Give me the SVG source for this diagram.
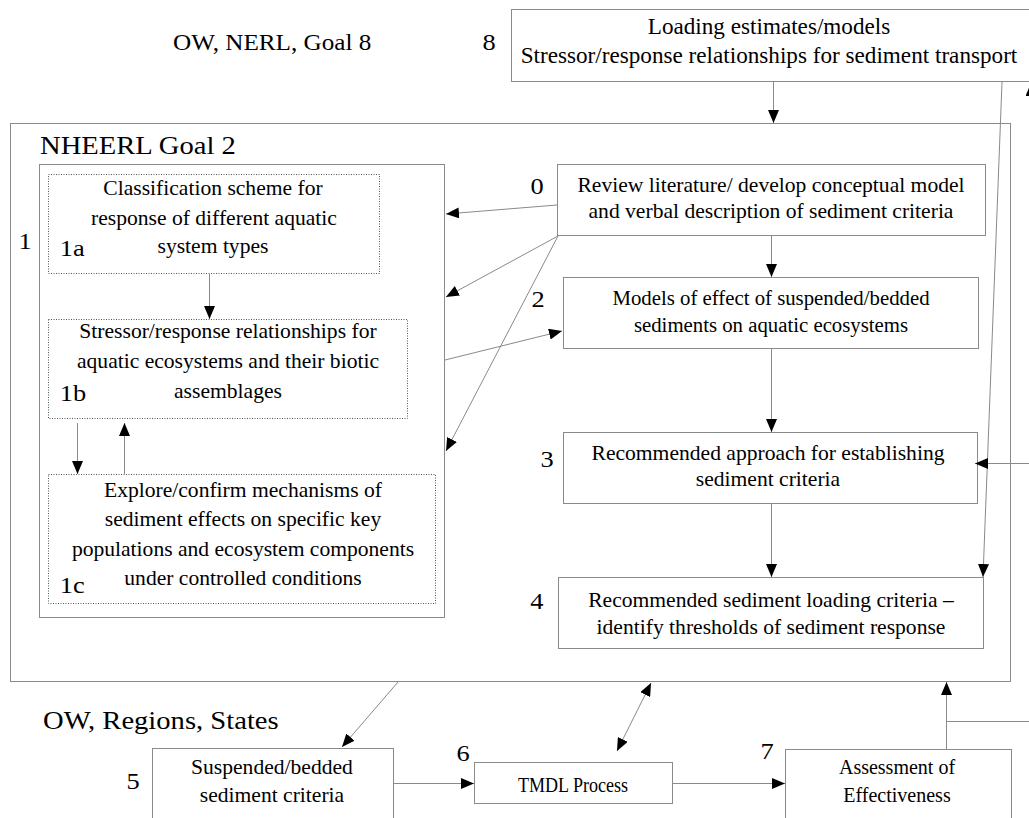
<svg xmlns="http://www.w3.org/2000/svg" width="1029" height="818" viewBox="0 0 1029 818" font-family="'Liberation Serif', 'DejaVu Serif', serif">
  <style>
    text { font-family: "Liberation Serif", "DejaVu Serif", serif; fill: #000; transform-box: fill-box; }
    .t { font-size: 20px; text-anchor: middle; transform-origin: center; transform: scaleX(1.08); }
    .t2 { transform: scaleX(1.04); }
    .t8 { font-size: 22.5px; transform: scaleX(1.03); }
    .plain { transform: none; }
    .tm { font-size: 21px; transform: scaleX(0.86); }
    .num { font-size: 24px; transform-origin: center; transform: scaleX(1.1); }
    .head { font-size: 26px; transform-origin: left center; transform: scaleX(1.1); }
    .box { fill: none; stroke: #8a8a8a; stroke-width: 1; }
    .dot { fill: none; stroke: #555; stroke-width: 1; stroke-dasharray: 1 1.5; }
    .ln { fill: none; stroke: #8a8a8a; stroke-width: 1; }
    .arr { fill: none; stroke: #8a8a8a; stroke-width: 1; marker-end: url(#ah); }
  </style>
  <defs>
    <marker id="ah" markerUnits="userSpaceOnUse" markerWidth="13" markerHeight="11" refX="13" refY="5.5" orient="auto-start-reverse">
      <path d="M0,0 L13,5.5 L0,11 Z" fill="#000"/>
    </marker>
  </defs>
  <rect width="1029" height="818" fill="#fff"/>

  <!-- group headings -->
  <text class="head" x="173" y="50" style="font-size:24px;transform:scaleX(1.05)">OW, NERL, Goal 8</text>
  <text class="head" x="40" y="154">NHEERL Goal 2</text>
  <text class="head" x="43" y="729">OW, Regions, States</text>

  <!-- outer NHEERL frame -->
  <g id="frame-nheerl">
    <rect class="box" x="10.5" y="123.5" width="1000" height="558"/>
  </g>

  <!-- node 8 -->
  <g id="node-8">
    <rect class="box" x="511.5" y="9.5" width="540" height="72"/>
    <text class="num" x="483" y="50">8</text>
    <text class="t t8" x="769" y="34">Loading estimates/models</text>
    <text class="t t8" x="769" y="63">Stressor/response relationships for sediment transport</text>
  </g>

  <!-- node 1 with sub-tasks -->
  <g id="node-1">
    <rect class="box" x="39.5" y="164.5" width="405" height="453"/>
    <text class="num" x="19" y="249">1</text>
  </g>
  <g id="node-1a">
    <rect class="dot" x="48.5" y="174.5" width="331" height="99"/>
    <text class="num" x="61" y="256">1a</text>
    <text class="t" x="213" y="195">Classification scheme for</text>
    <text class="t" x="214" y="225">response of different aquatic</text>
    <text class="t" x="213" y="253">system types</text>
  </g>
  <g id="node-1b">
    <rect class="dot" x="48.5" y="319.5" width="359" height="99"/>
    <text class="num" x="61" y="401">1b</text>
    <text class="t" x="228" y="338">Stressor/response relationships for</text>
    <text class="t" x="228" y="368">aquatic ecosystems and their biotic</text>
    <text class="t" x="228" y="398">assemblages</text>
  </g>
  <g id="node-1c">
    <rect class="dot" x="48.5" y="474.5" width="387" height="129"/>
    <text class="num" x="61" y="593">1c</text>
    <text class="t" x="243" y="497">Explore/confirm mechanisms of</text>
    <text class="t" x="243" y="526">sediment effects on specific key</text>
    <text class="t" x="243" y="556">populations and ecosystem components</text>
    <text class="t" x="243" y="585">under controlled conditions</text>
  </g>

  <!-- right-hand column -->
  <g id="node-0">
    <rect class="box" x="557.5" y="164.5" width="428" height="71"/>
    <text class="num" x="531" y="194">0</text>
    <text class="t" x="771" y="192">Review literature/ develop conceptual model</text>
    <text class="t" x="771" y="218">and verbal description of sediment criteria</text>
  </g>
  <g id="node-2">
    <rect class="box" x="563.5" y="277.5" width="415" height="71"/>
    <text class="num" x="532" y="307">2</text>
    <text class="t t2" x="771" y="305">Models of effect of suspended/bedded</text>
    <text class="t t2" x="771" y="332">sediments on aquatic ecosystems</text>
  </g>
  <g id="node-3">
    <rect class="box" x="563.5" y="432.5" width="414" height="71"/>
    <text class="num" x="541" y="467">3</text>
    <text class="t" x="768" y="460">Recommended approach for establishing</text>
    <text class="t" x="768" y="486">sediment criteria</text>
  </g>
  <g id="node-4">
    <rect class="box" x="558.5" y="577.5" width="425" height="71"/>
    <text class="num" x="531" y="609">4</text>
    <text class="t" x="771" y="607">Recommended sediment loading criteria –</text>
    <text class="t" x="771" y="634">identify thresholds of sediment response</text>
  </g>

  <!-- bottom row -->
  <g id="node-5">
    <rect class="box" x="152.5" y="748.5" width="241" height="90"/>
    <text class="num" x="127" y="789">5</text>
    <text class="t" x="272" y="774">Suspended/bedded</text>
    <text class="t" x="272" y="802">sediment criteria</text>
  </g>
  <g id="node-6">
    <rect class="box" x="474.5" y="762.5" width="198" height="41"/>
    <text class="num" x="457" y="761">6</text>
    <text class="t tm" x="573" y="792">TMDL Process</text>
  </g>
  <g id="node-7">
    <rect class="box" x="785.5" y="749.5" width="226" height="90"/>
    <text class="num" x="761" y="759">7</text>
    <text class="t plain" x="897" y="774">Assessment of</text>
    <text class="t plain" x="897" y="802">Effectiveness</text>
  </g>

  <!-- connectors -->
  <g id="connectors">
    <line class="arr" x1="773.5" y1="82" x2="773.5" y2="123"/>
    <line class="arr" x1="557" y1="205" x2="446" y2="214"/>
    <line class="arr" x1="558" y1="236" x2="446" y2="297"/>
    <line class="arr" x1="558" y1="236" x2="446" y2="451"/>
    <line class="arr" x1="445" y1="360" x2="562" y2="331"/>
    <line class="arr" x1="771.5" y1="236" x2="771.5" y2="277"/>
    <line class="arr" x1="771.5" y1="349" x2="771.5" y2="432"/>
    <line class="arr" x1="771.5" y1="504" x2="771.5" y2="577"/>
    <line class="arr" x1="209.5" y1="274" x2="209.5" y2="319"/>
    <line class="arr" x1="77.5" y1="423" x2="77.5" y2="474"/>
    <line class="arr" x1="124.5" y1="474" x2="124.5" y2="423"/>
    <!-- sediment transport feed into loading criteria -->
    <line class="arr" x1="1002" y1="82" x2="983" y2="577"/>
    <!-- feedback from the right -->
    <line class="arr" x1="1040" y1="463.5" x2="975" y2="463.5"/>
    <line class="arr" x1="1031" y1="110" x2="1031" y2="83"/>
    <!-- bottom row links -->
    <line class="arr" x1="398" y1="682" x2="342" y2="747"/>
    <line class="arr" x1="617" y1="751" x2="651" y2="683" style="marker-start:url(#ah)"/>
    <line class="arr" x1="393" y1="783.5" x2="474" y2="783.5"/>
    <line class="arr" x1="673" y1="783.5" x2="785" y2="783.5"/>
    <line class="arr" x1="946.5" y1="749" x2="946.5" y2="682"/>
    <line class="ln" x1="946.5" y1="721.5" x2="1029" y2="721.5"/>
  </g>
</svg>
